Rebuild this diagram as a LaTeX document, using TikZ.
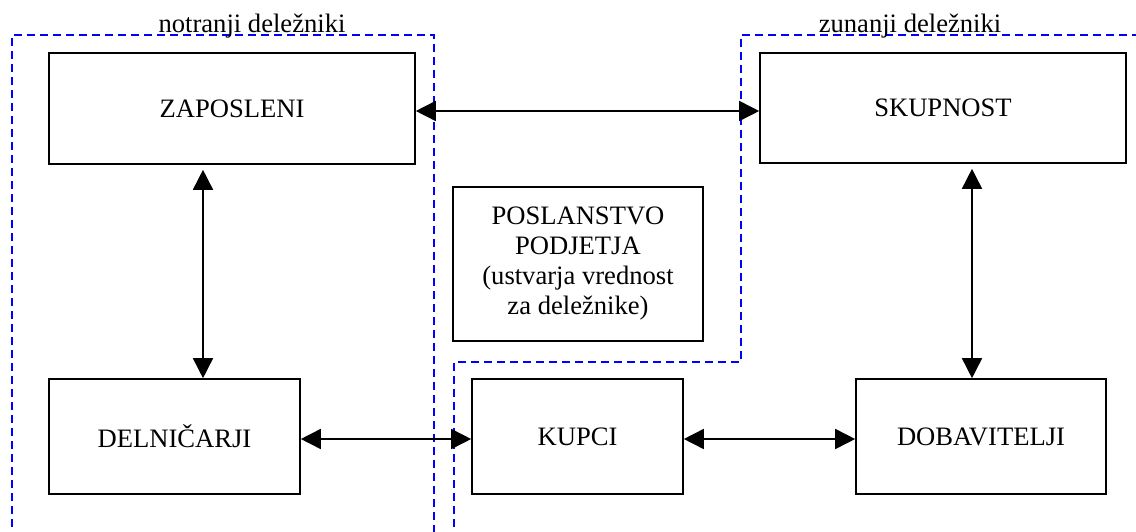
\documentclass[tikz,border=0pt]{standalone}
\usepackage{fontspec}
\setmainfont{Liberation Serif}
\usetikzlibrary{arrows.meta}
\begin{document}
\begin{tikzpicture}[x=1pt,y=-1pt,
  every node/.style={font=\fontsize{26.6}{30}\selectfont},
  box/.style={draw=black,line width=1.6pt,rectangle,inner sep=0pt,align=center},
  region/.style={draw=blue,line width=1.8pt,dash pattern=on 8pt off 5pt},
  link/.style={line width=1.6pt,{Triangle[length=20pt,width=20pt]}-{Triangle[length=20pt,width=20pt]}}]
\useasboundingbox (0,0) rectangle (1136,532);
% regions
\draw[region] (12,540) -- (12,35) -- (434,35) -- (434,540);
\draw[region] (1140,35) -- (741,35) -- (741,362) -- (454,362) -- (454,540);
\node[anchor=base] (lin) at (252,33) {notranji deležniki};
\node[anchor=base] (lout) at (910,33) {zunanji deležniki};
% boxes
\node[box,minimum width=366pt,minimum height=111pt] (zap) at (232,108.5) {ZAPOSLENI};
\node[box,minimum width=366pt,minimum height=110pt] (sku) at (943,108) {SKUPNOST};
\node[box,minimum width=251pt,minimum height=115pt] (del) at (174.5,436.5) {DELNIČARJI};
\node[box,minimum width=211pt,minimum height=115pt] (kup) at (577.5,436.5) {KUPCI};
\node[box,minimum width=250pt,minimum height=115pt] (dob) at (981,436.5) {DOBAVITELJI};
\node[box,minimum width=250pt,minimum height=154pt] (pos) at (578,264) {POSLANSTVO\\PODJETJA\\(ustvarja vrednost\\za deležnike)};
% connectors
\coordinate (lx) at (203,0);
\coordinate (rx) at (972,0);
\draw[link] ([yshift=-2.5pt]zap.east) -- ([yshift=-3pt]sku.west);
\draw[link,shorten >=5pt] (lx |- del.north) -- (lx |- zap.south);
\draw[link,shorten >=5pt] (rx |- dob.north) -- (rx |- sku.south);
\draw[link] ([yshift=-2.5pt]del.east) -- ([yshift=-2.5pt]kup.west);
\draw[link] ([yshift=-2.5pt]kup.east) -- ([yshift=-2.5pt]dob.west);
\end{tikzpicture}
\end{document}
